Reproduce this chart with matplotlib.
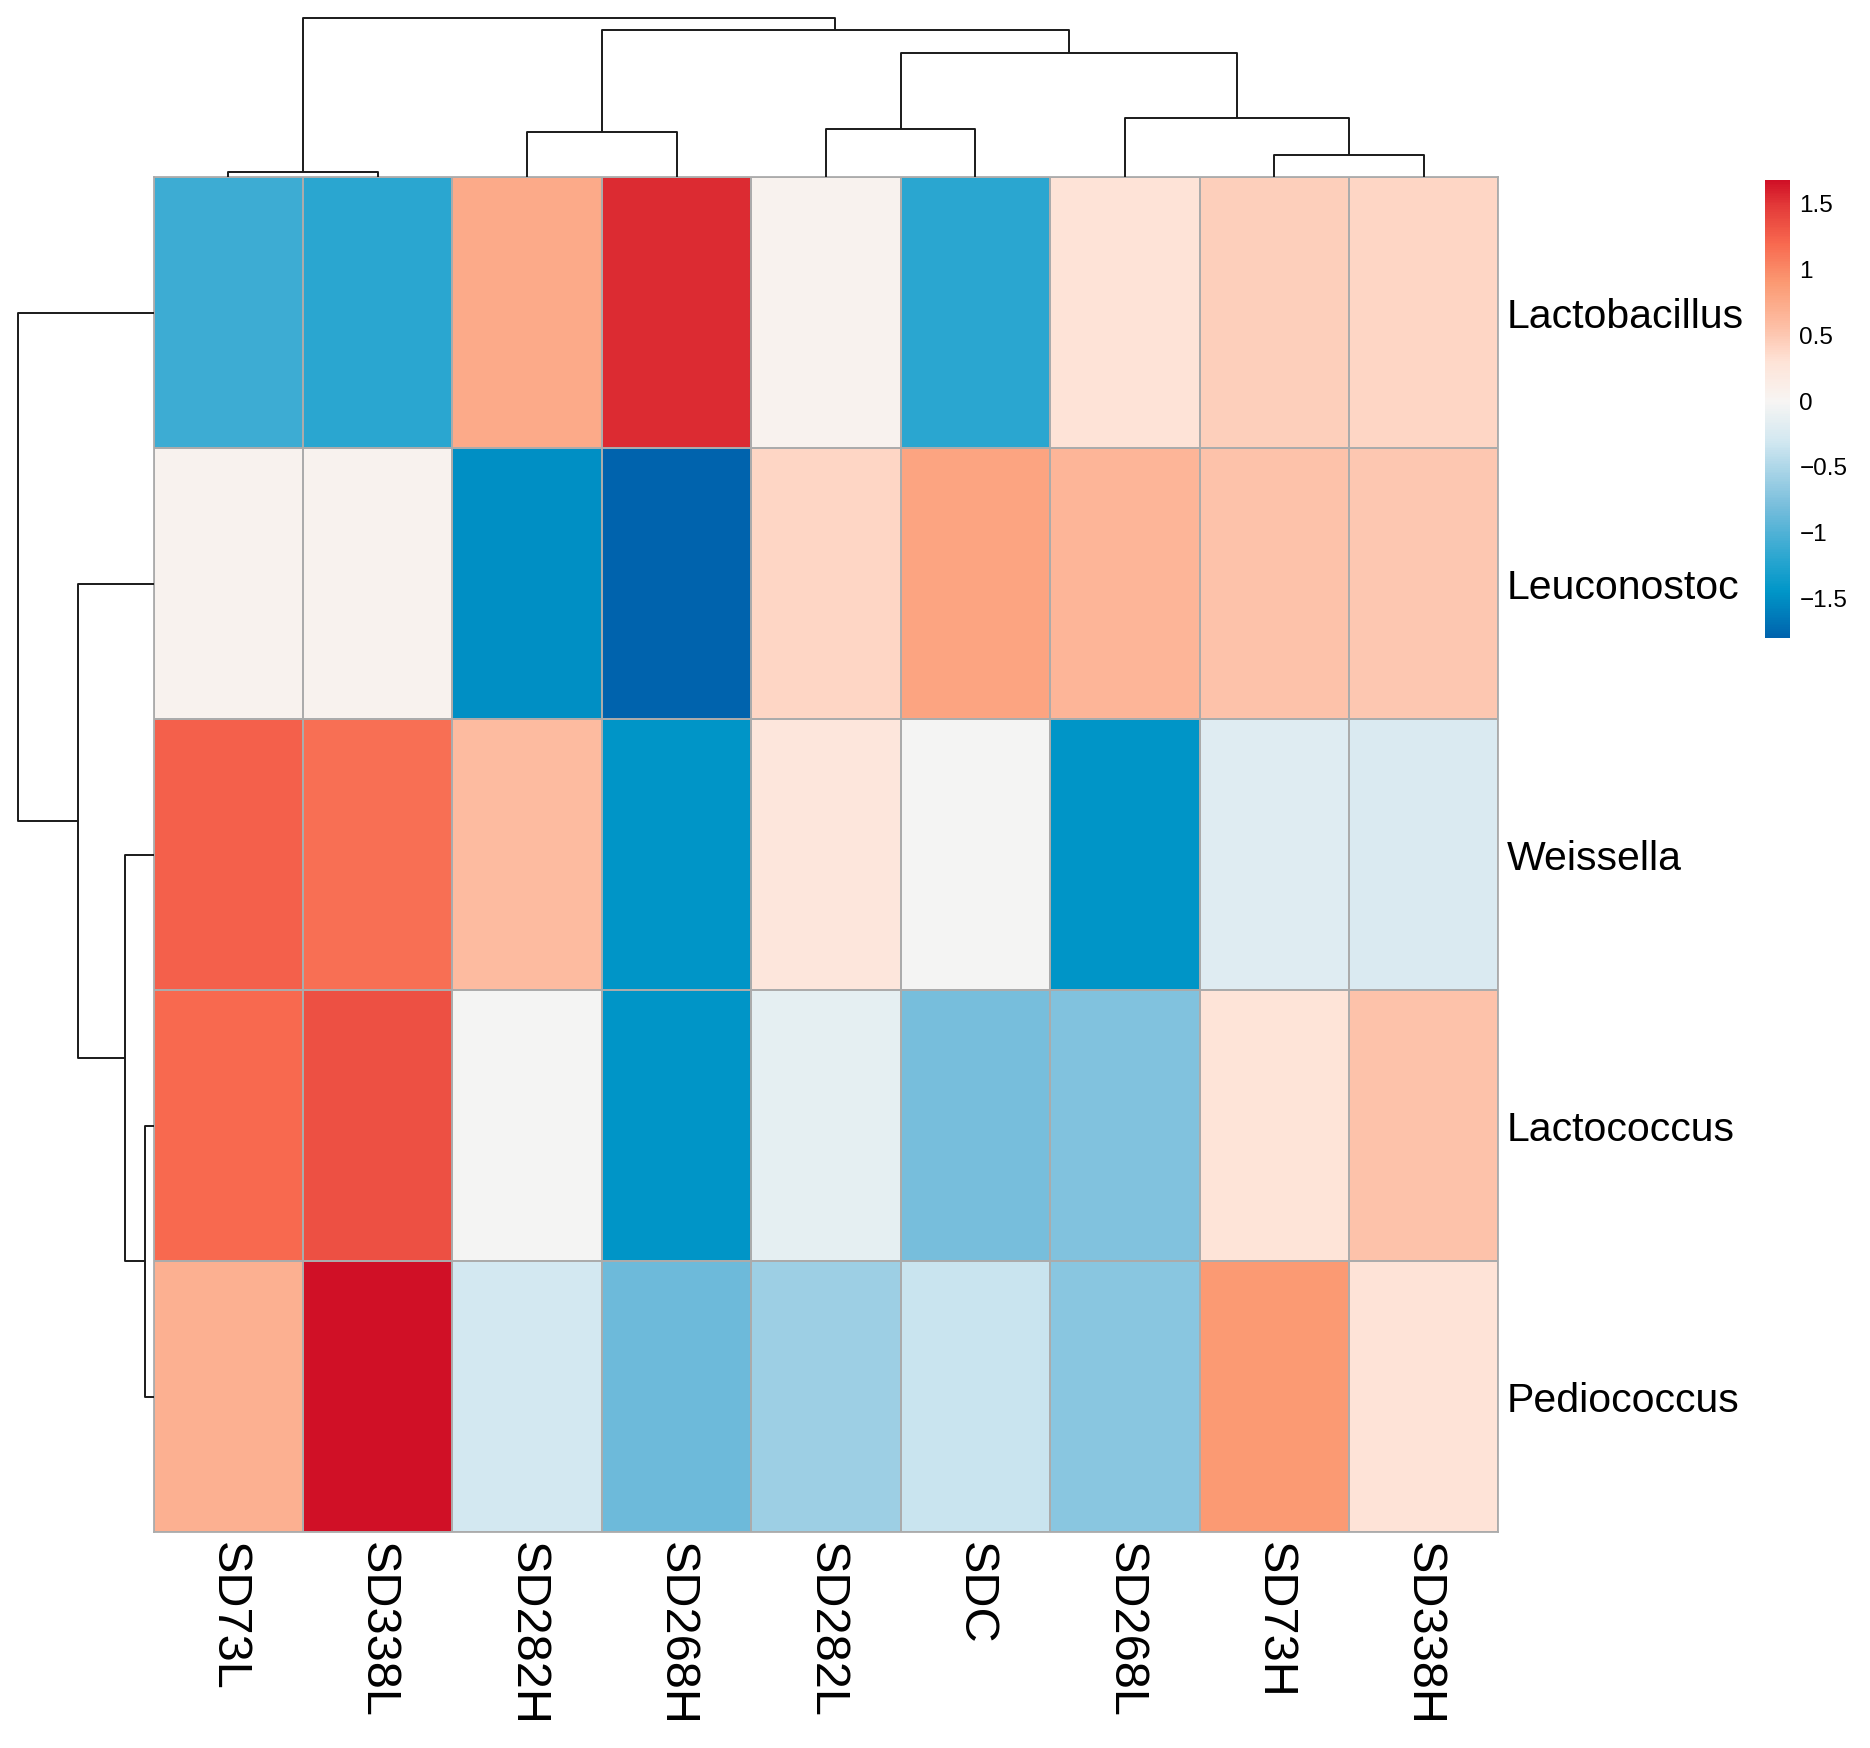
import numpy as np
import matplotlib
matplotlib.use("Agg")
import matplotlib.pyplot as plt
from matplotlib.colors import LinearSegmentedColormap, Normalize

plt.rcParams["font.family"] = ["Liberation Sans", "DejaVu Sans"]

# column / row order as shown (after clustering)
samples = ["SD73L", "SD338L", "SD282H", "SD268H", "SD282L", "SDC", "SD268L", "SD73H", "SD338H"]
genera = ["Lactobacillus", "Leuconostoc", "Weissella", "Lactococcus", "Pediococcus"]

# row-scaled abundance (z-score)
lactobacillus = [-1.10, -1.20, 0.75, 1.55, 0.05, -1.20, 0.30, 0.45, 0.40]
leuconostoc = [0.05, 0.05, -1.50, -1.80, 0.40, 0.80, 0.65, 0.55, 0.50]
weissella = [1.25, 1.15, 0.60, -1.45, 0.25, -0.02, -1.45, -0.20, -0.25]
lactococcus = [1.20, 1.35, -0.03, -1.45, -0.15, -0.80, -0.75, 0.28, 0.55]
pediococcus = [0.70, 1.70, -0.30, -0.85, -0.60, -0.35, -0.70, 0.90, 0.30]

# dendrogram merges: (left node, right node, relative height); new nodes numbered after leaves
col_merges = [(0, 1, 0.037), (7, 8, 0.143), (2, 3, 0.286), (4, 5, 0.304),
              (6, 10, 0.373), (12, 13, 0.783), (11, 14, 0.925), (9, 15, 1.0)]
row_merges = [(3, 4, 0.06), (2, 5, 0.213), (1, 6, 0.56), (0, 7, 1.0)]

cbar_ticks = [-1.5, -1, -0.5, 0, 0.5, 1, 1.5]

data = np.array([lactobacillus, leuconostoc, weissella, lactococcus, pediococcus])

vmin, vmax = -1.8, 1.68
anchors = [(-1.80, "#0063AD"), (-1.45, "#0096C8"), (-1.20, "#2AA6D0"), (-0.80, "#78BEDC"),
           (-0.30, "#D3E8F1"), (0.00, "#F7F5F3"), (0.30, "#FEE3D7"), (0.60, "#FDBBA0"),
           (0.90, "#FB9A73"), (1.20, "#F8694F"), (1.50, "#E23838"), (1.68, "#D01026")]
cmap = LinearSegmentedColormap.from_list(
    "heat", [((v - vmin) / (vmax - vmin), c) for v, c in anchors], N=256)
norm = Normalize(vmin=vmin, vmax=vmax)


def draw_dendro(ax, merges, n_leaves, side):
    pos = {i: i + 0.5 for i in range(n_leaves)}
    hgt = {i: 0.0 for i in range(n_leaves)}
    for k, (a, b, h) in enumerate(merges):
        xs = [pos[a], pos[a], pos[b], pos[b]]
        ys = [hgt[a], h, h, hgt[b]]
        if side == "top":
            ax.plot(xs, ys, color="#1a1a1a", lw=1.4, clip_on=False, solid_capstyle="butt")
        else:
            ax.plot(ys, xs, color="#1a1a1a", lw=1.4, clip_on=False, solid_capstyle="butt")
        pos[n_leaves + k] = (pos[a] + pos[b]) / 2
        hgt[n_leaves + k] = h
    ax.axis("off")


fig = plt.figure(figsize=(18.7, 17.48), dpi=100)

hm_left, hm_right, hm_bottom, hm_top = 0.0821, 0.8013, 0.1235, 0.8985
ax = fig.add_axes([hm_left, hm_bottom, hm_right - hm_left, hm_top - hm_bottom])
ax.pcolormesh(np.arange(len(samples) + 1), np.arange(len(genera) + 1), data,
              cmap=cmap, norm=norm, edgecolors="#ABABAB", linewidth=1.3)
ax.set_xlim(0, len(samples))
ax.set_ylim(len(genera), 0)
for s in ax.spines.values():
    s.set_color("#ABABAB")
    s.set_linewidth(1.3)
ax.tick_params(length=0)
ax.set_xticks(np.arange(len(samples)) + 0.5)
ax.set_xticklabels(samples, rotation=270, fontsize=35, va="top", ha="center")
ax.yaxis.tick_right()
ax.set_yticks(np.arange(len(genera)) + 0.5)
ax.set_yticklabels(genera, fontsize=29.5)
ax.tick_params(axis="x", pad=7)
ax.tick_params(axis="y", pad=6)

# column dendrogram
axc = fig.add_axes([hm_left, hm_top, hm_right - hm_left, 0.9897 - hm_top])
draw_dendro(axc, col_merges, len(samples), "top")
axc.set_xlim(0, len(samples))
axc.set_ylim(0, 1.0)

# row dendrogram
axr = fig.add_axes([0.0096, hm_bottom, hm_left - 0.0096, hm_top - hm_bottom])
draw_dendro(axr, row_merges, len(genera), "left")
axr.set_ylim(len(genera), 0)
axr.set_xlim(1.0, 0)

# colour bar
cax = fig.add_axes([0.944, 0.635, 0.013, 0.262])
cb = fig.colorbar(plt.cm.ScalarMappable(norm=norm, cmap=cmap), cax=cax, ticks=cbar_ticks)
cb.outline.set_visible(False)
cb.ax.set_yticklabels(["\u22121.5", "\u22121", "\u22120.5", "0", "0.5", "1", "1.5"])
cb.ax.tick_params(length=0, pad=7, labelsize=17.5)

fig.savefig("out.png", dpi=100, facecolor="white")
